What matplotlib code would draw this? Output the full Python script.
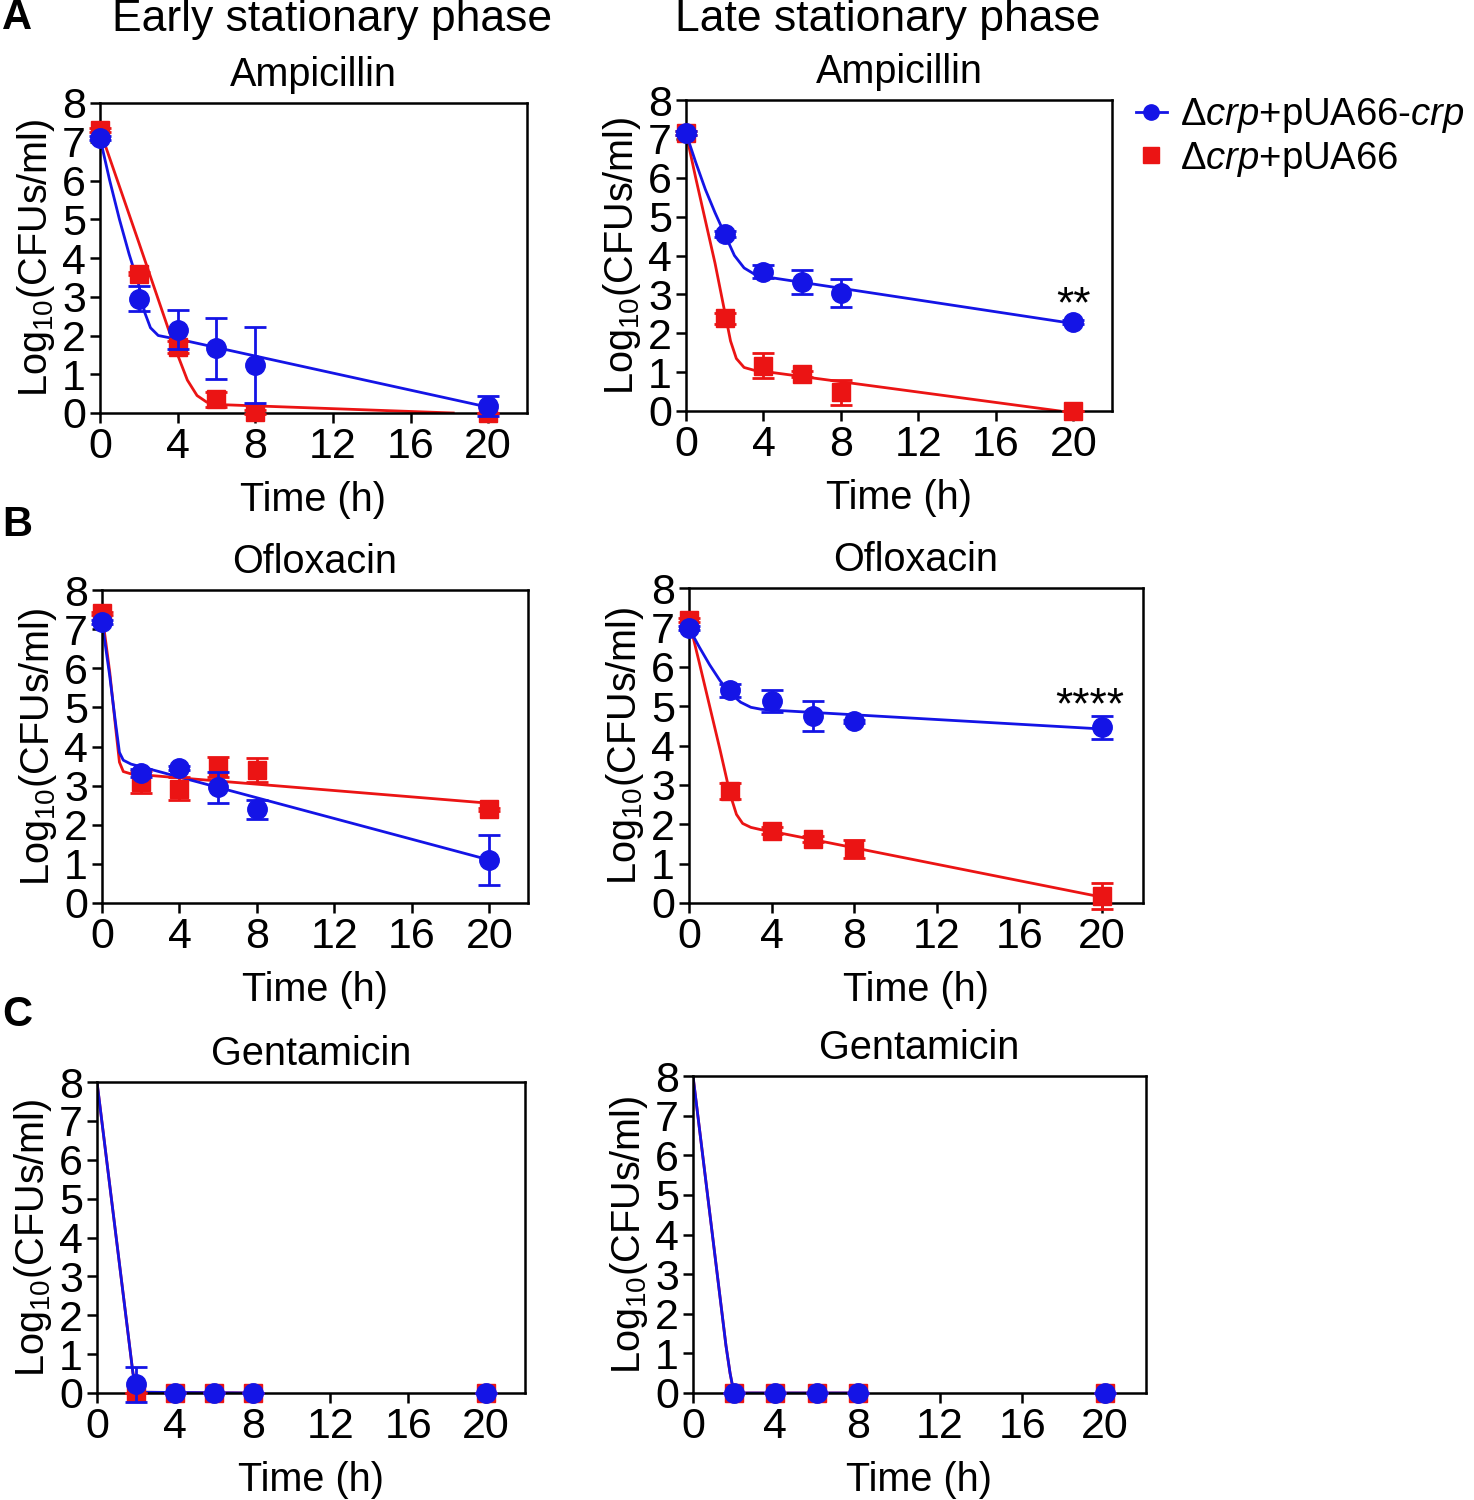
import numpy as np
import matplotlib
matplotlib.use("Agg")
import matplotlib.pyplot as plt
from matplotlib.lines import Line2D

plt.rcParams['font.family'] = ['Liberation Sans', 'DejaVu Sans']
plt.rcParams['mathtext.fontset'] = 'custom'
plt.rcParams['mathtext.rm'] = 'Liberation Sans'
plt.rcParams['mathtext.it'] = 'Liberation Sans:italic'

BLUE = '#1414e6'
RED = '#eb1414'

# sampling times (h)
time_points = [0, 2, 4, 6, 8, 20]
gen_time_points = [2, 4, 6, 8, 20]
x_ticks = [0, 4, 8, 12, 16, 20]
y_ticks = [0, 1, 2, 3, 4, 5, 6, 7, 8]

# Ampicillin, early stationary
amp_early_comp = [7.1, 2.95, 2.15, 1.67, 1.23, 0.18]
amp_early_comp_err = [0.05, 0.32, 0.5, 0.78, 0.98, 0.25]
amp_early_vec = [7.3, 3.6, 1.7, 0.35, 0.03, 0.0]
amp_early_vec_err = [0.05, 0.05, 0.15, 0.2, 0.05, 0.0]
amp_early_comp_fit_t = [0, 0.5, 1, 1.5, 2, 2.3, 2.6, 3, 3.5, 4, 20]
amp_early_comp_fit_y = [7.1, 6.0, 5.0, 4.1, 3.3, 2.6, 2.2, 2.0, 1.95, 1.91, 0.15]
amp_early_vec_fit_t = [0, 2, 3.5, 4, 4.5, 5, 5.5, 6, 18.2]
amp_early_vec_fit_y = [7.3, 4.4, 2.2, 1.5, 0.85, 0.45, 0.28, 0.22, 0.0]

# Ampicillin, late stationary
amp_late_comp = [7.15, 4.55, 3.58, 3.32, 3.03, 2.3]
amp_late_comp_err = [0.05, 0.08, 0.17, 0.3, 0.36, 0.05]
amp_late_vec = [7.15, 2.38, 1.17, 0.95, 0.48, 0.0]
amp_late_vec_err = [0.05, 0.15, 0.32, 0.08, 0.33, 0.0]
amp_late_comp_fit_t = [0, 0.5, 1, 1.5, 2, 2.5, 3, 3.5, 4, 20]
amp_late_comp_fit_y = [7.15, 6.4, 5.7, 5.1, 4.55, 4.0, 3.68, 3.53, 3.46, 2.25]
amp_late_vec_fit_t = [0, 0.5, 1, 1.5, 2, 2.3, 2.6, 3, 3.5, 4, 19.3]
amp_late_vec_fit_y = [7.15, 6.0, 4.9, 3.8, 2.55, 1.8, 1.35, 1.12, 1.05, 1.02, 0.0]

# Ofloxacin, early stationary
oflx_early_comp = [7.19, 3.32, 3.44, 2.96, 2.39, 1.1]
oflx_early_comp_err = [0.05, 0.1, 0.05, 0.4, 0.25, 0.65]
oflx_early_vec = [7.4, 3.1, 2.92, 3.47, 3.4, 2.39]
oflx_early_vec_err = [0.05, 0.28, 0.3, 0.25, 0.3, 0.05]
oflx_early_comp_fit_t = [0, 0.4, 0.7, 0.9, 1.1, 1.5, 20]
oflx_early_comp_fit_y = [7.19, 5.8, 4.6, 3.85, 3.65, 3.55, 1.1]
oflx_early_vec_fit_t = [0, 0.4, 0.7, 0.9, 1.1, 1.5, 20]
oflx_early_vec_fit_y = [7.4, 5.9, 4.5, 3.6, 3.36, 3.3, 2.55]

# Ofloxacin, late stationary
oflx_late_comp = [6.98, 5.4, 5.13, 4.75, 4.61, 4.46]
oflx_late_comp_err = [0.05, 0.17, 0.28, 0.37, 0.05, 0.3]
oflx_late_vec = [7.18, 2.85, 1.84, 1.63, 1.38, 0.18]
oflx_late_vec_err = [0.05, 0.2, 0.1, 0.08, 0.23, 0.33]
oflx_late_comp_fit_t = [0, 0.5, 1, 1.5, 2, 2.5, 3, 3.5, 4, 20]
oflx_late_comp_fit_y = [6.98, 6.5, 6.05, 5.65, 5.33, 5.1, 4.97, 4.92, 4.9, 4.42]
oflx_late_vec_fit_t = [0, 0.5, 1, 1.5, 2, 2.3, 2.6, 3, 3.5, 4, 20]
oflx_late_vec_fit_y = [7.18, 6.1, 5.0, 3.9, 2.75, 2.25, 2.02, 1.92, 1.86, 1.82, 0.15]

# Gentamicin, early stationary (t = 0 point lies above the axis)
gen_early_comp = [0.22, 0, 0, 0, 0]
gen_early_comp_err = [0.45, 0, 0, 0, 0]
gen_early_vec = [0, 0, 0, 0, 0]
gen_early_vec_err = [0, 0, 0, 0, 0]
gen_early_comp_fit_t = [0, 1.85, 2.0, 2.2, 8]
gen_early_comp_fit_y = [8.0, 0.5, 0.25, 0.02, 0.0]
gen_early_vec_fit_t = [0, 1.85, 2.0, 2.2, 8]
gen_early_vec_fit_y = [8.0, 0.5, 0.25, 0.02, 0.0]

# Gentamicin, late stationary
gen_late_comp = [0, 0, 0, 0, 0]
gen_late_comp_err = [0, 0, 0, 0, 0]
gen_late_vec = [0, 0, 0, 0, 0]
gen_late_vec_err = [0, 0, 0, 0, 0]
gen_late_comp_fit_t = [0, 1.6, 1.8, 1.95, 2.1, 8]
gen_late_comp_fit_y = [8.0, 1.2, 0.5, 0.1, 0.0, 0.0]
gen_late_vec_fit_t = [0, 1.6, 1.8, 1.95, 2.1, 8]
gen_late_vec_fit_y = [8.0, 1.2, 0.5, 0.1, 0.0, 0.0]

legend_labels = [r'Δ$\mathit{crp}$+pUA66-$\mathit{crp}$', r'Δ$\mathit{crp}$+pUA66']

FIG_W, FIG_H = 1474, 1500


def px_axes(fig, left, right, top, bottom):
    """Add an axes given pixel edges (origin top-left)."""
    return fig.add_axes([left / FIG_W, 1 - bottom / FIG_H,
                         (right - left) / FIG_W, (bottom - top) / FIG_H])


def draw_panel(ax, t, comp, comp_err, vec, vec_err,
               comp_fit_t, comp_fit_y, vec_fit_t, vec_fit_y, title):
    ax.plot(vec_fit_t, vec_fit_y, color=RED, lw=2, zorder=2)
    ax.plot(comp_fit_t, comp_fit_y, color=BLUE, lw=2, zorder=2.1)
    ax.errorbar(t, vec, yerr=vec_err, fmt='none', ecolor=RED,
                elinewidth=2, capsize=8, capthick=2, zorder=3, clip_on=False)
    ax.plot(t, vec, 's', color=RED, ms=13, zorder=4, clip_on=False)
    ax.errorbar(t, comp, yerr=comp_err, fmt='none', ecolor=BLUE,
                elinewidth=2, capsize=8, capthick=2, zorder=5, clip_on=False)
    ax.plot(t, comp, 'o', color=BLUE, ms=14, zorder=6, clip_on=False)

    ax.set_xlim(0, 22)
    ax.set_ylim(0, 8)
    ax.set_xticks(x_ticks)
    ax.set_yticks(y_ticks)
    ax.tick_params(direction='out', length=7, width=1.8, labelsize=31, pad=3)
    for sp in ax.spines.values():
        sp.set_linewidth(1.8)
    ax.set_xlabel('Time (h)', fontsize=28.5, labelpad=10)
    ax.set_ylabel(r'Log$_{10}$(CFUs/ml)', fontsize=28.5, labelpad=4)
    ax.set_title(title, fontsize=28.5, pad=12)


fig = plt.figure(figsize=(FIG_W / 100, FIG_H / 100), dpi=100)

ax = px_axes(fig, 100, 527, 103, 413)
draw_panel(ax, time_points, amp_early_comp, amp_early_comp_err,
           amp_early_vec, amp_early_vec_err,
           amp_early_comp_fit_t, amp_early_comp_fit_y,
           amp_early_vec_fit_t, amp_early_vec_fit_y, 'Ampicillin')

ax = px_axes(fig, 686, 1112, 100, 411)
draw_panel(ax, time_points, amp_late_comp, amp_late_comp_err,
           amp_late_vec, amp_late_vec_err,
           amp_late_comp_fit_t, amp_late_comp_fit_y,
           amp_late_vec_fit_t, amp_late_vec_fit_y, 'Ampicillin')
ax.text(20, 2.17, '**', fontsize=32, ha='center', va='bottom')

ax = px_axes(fig, 102, 528, 590, 903)
draw_panel(ax, time_points, oflx_early_comp, oflx_early_comp_err,
           oflx_early_vec, oflx_early_vec_err,
           oflx_early_comp_fit_t, oflx_early_comp_fit_y,
           oflx_early_vec_fit_t, oflx_early_vec_fit_y, 'Ofloxacin')

ax = px_axes(fig, 689, 1143, 588, 903)
draw_panel(ax, time_points, oflx_late_comp, oflx_late_comp_err,
           oflx_late_vec, oflx_late_vec_err,
           oflx_late_comp_fit_t, oflx_late_comp_fit_y,
           oflx_late_vec_fit_t, oflx_late_vec_fit_y, 'Ofloxacin')
ax.text(19.4, 4.47, '****', fontsize=32, ha='center', va='bottom')

ax = px_axes(fig, 97, 525, 1082, 1393)
draw_panel(ax, gen_time_points, gen_early_comp, gen_early_comp_err,
           gen_early_vec, gen_early_vec_err,
           gen_early_comp_fit_t, gen_early_comp_fit_y,
           gen_early_vec_fit_t, gen_early_vec_fit_y, 'Gentamicin')

ax = px_axes(fig, 693, 1146, 1076, 1393)
draw_panel(ax, gen_time_points, gen_late_comp, gen_late_comp_err,
           gen_late_vec, gen_late_vec_err,
           gen_late_comp_fit_t, gen_late_comp_fit_y,
           gen_late_vec_fit_t, gen_late_vec_fit_y, 'Gentamicin')

# column headings and panel letters
fig.text(332 / FIG_W, 1 - 20 / FIG_H, 'Early stationary phase', fontsize=32,
         ha='center', va='center')
fig.text(888 / FIG_W, 1 - 20 / FIG_H, 'Late stationary phase', fontsize=32,
         ha='center', va='center')
for letter, ypx in [('A', 18), ('B', 525), ('C', 1015)]:
    fig.text(2 / FIG_W, 1 - ypx / FIG_H, letter, fontsize=30,
             fontweight='bold', ha='left', va='center')

handles = [Line2D([], [], color=BLUE, marker='o', lw=2, ms=11),
           Line2D([], [], color=RED, marker='s', ls='none', ms=11)]
fig.legend(handles, legend_labels, loc='upper left',
           bbox_to_anchor=(1136 / FIG_W, 1 - 96 / FIG_H), frameon=False,
           fontsize=27.5, handlelength=0.8, handletextpad=0.35,
           labelspacing=0.12, borderpad=0, borderaxespad=0)

fig.savefig('out.png', dpi=100)
